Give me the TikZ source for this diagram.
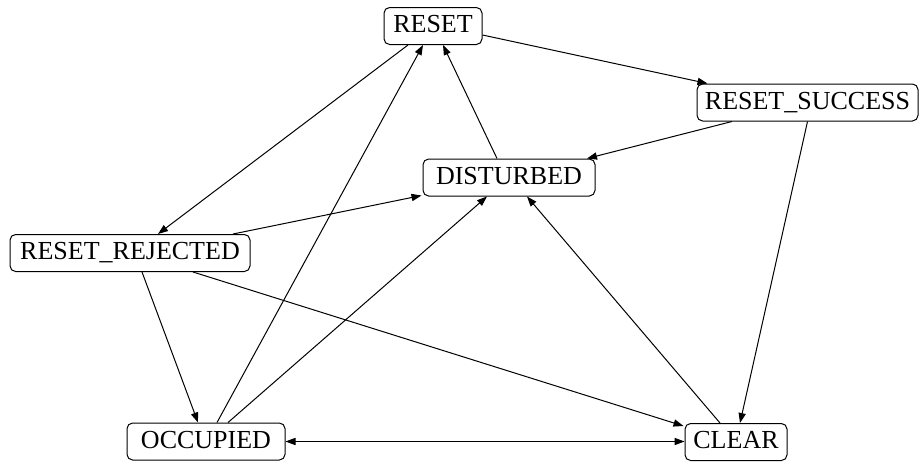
\documentclass[tikz,border=0pt]{standalone}
\usepackage{fontspec}
\setmainfont{Liberation Serif}
\usetikzlibrary{arrows.meta,calc}
\begin{document}
\begin{tikzpicture}[x=0.5pt,y=-0.5pt,
  st/.style={draw, rounded corners=2.8pt, line width=0.5pt,
    font=\fontsize{13}{15}\selectfont, minimum height=18.5pt,
    inner sep=0pt, text height=9pt, text depth=2.5pt},
  e/.style={line width=0.5pt, -{Triangle[length=5pt,width=3.6pt]}},
  ee/.style={line width=0.5pt, {Triangle[length=5pt,width=3.6pt]}-{Triangle[length=5pt,width=3.6pt]}},
]
\useasboundingbox (0,0) rectangle (920,461);

\node[st, minimum width=49pt]    (reset) at (433,26)    {RESET};
\node[st, minimum width=110.5pt] (rs)    at (807.5,102.5) {RESET\_SUCCESS};
\node[st, minimum width=86pt]    (dist)  at (509,177.5) {DISTURBED};
\node[st, minimum width=120pt]   (rr)    at (130,253)   {RESET\_REJECTED};
\node[st, minimum width=79pt]    (occ)   at (206,441.5) {OCCUPIED};
\node[st, minimum width=51pt]    (clear) at (736,442)   {CLEAR};

% RESET out
\draw[e] ($(reset.south)+(-25,0)$) -- ($(rr.north)+(28,0)$);
\draw[e] ($(reset.east)+(0,9)$) -- ($(rs.north)+(-100,0)$);
% into RESET
\draw[e] ($(dist.north)+(-12,0)$) -- ($(reset.south)+(10,0)$);
\draw[e] ($(occ.north)+(11,0)$) -- ($(reset.south)+(-10,0)$);
% RESET_SUCCESS out
\draw[e] ($(rs.south)+(-75.5,0)$) -- ($(dist.north)+(78,0)$);
\draw[e] (rs.south) -- ($(clear.north)+(4,0)$);
% RESET_REJECTED out
\draw[e] ($(rr.north)+(103,0)$) -- ($(dist.south west)+(-1,-1)$);
\draw[e] ($(rr.south)+(12,0)$) -- ($(occ.north)+(-8,0)$);
\draw[e] ($(rr.south)+(63,0)$) -- ($(clear.west)+(-1,-16)$);
% into DISTURBED from bottom
\draw[e] ($(occ.north)+(22,0)$) -- ($(dist.south)+(-22,0)$);
\draw[e] ($(clear.north)+(-16,0)$) -- ($(dist.south)+(18,0)$);
% OCCUPIED <-> CLEAR
\draw[ee] (occ.east) -- (occ.east -| clear.west);
\end{tikzpicture}
\end{document}
